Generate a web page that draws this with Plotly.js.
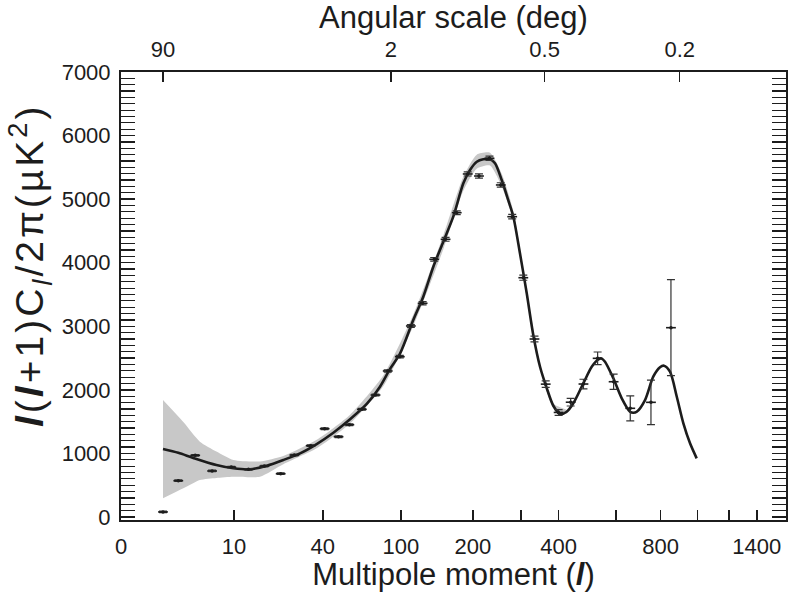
<!DOCTYPE html>
<html><head><meta charset="utf-8">
<script src="https://cdn.plot.ly/plotly-3.0.1.min.js"></script>
<style>html,body{margin:0;padding:0;background:#fff}#chart{width:789px;height:592px}
.annotation-text{letter-spacing:3px}</style>
</head><body><div id="chart"></div>
<script>
// ---- data (multipole l, power l(l+1)Cl/2pi in uK^2) ----
const dataL   = [2, 3, 4.5, 6.5, 9.5, 13, 17, 22, 27, 34, 41, 49, 56, 65, 76, 87, 99, 111, 125, 140, 156, 173, 191, 211, 231, 254, 279, 305, 333, 363, 400, 437, 479, 529, 590, 659, 753, 853];
const dataCl  = [80, 571, 970, 724, 785, 750, 802, 681, 975, 1122, 1389, 1263, 1452, 1694, 1919, 2297, 2522, 3005, 3362, 4054, 4368, 4787, 5396, 5364, 5643, 5223, 4724, 3764, 2800, 2090, 1645, 1806, 2092, 2496, 2128, 1710, 1804, 2978];
const dataErr = [12, 12, 12, 12, 12, 12, 12, 12, 12, 12, 15, 15, 15, 15, 15, 18, 20, 22, 25, 28, 30, 30, 32, 32, 35, 35, 35, 40, 45, 50, 45, 60, 75, 100, 120, 197, 350, 755];

const modelL  = [2, 3, 4.3, 7.1, 9.9, 13.3, 17.7, 22.9, 29.3, 36.9, 45.9, 56.5, 68.8, 79.9, 89.2, 99.2, 113.8, 125.8, 138.8, 152.7, 167.6, 183.7, 195, 207, 219, 232, 242, 256, 270, 281.6, 297, 313.4, 330, 347.6, 365.8, 384.5, 404, 424.6, 445.5, 478.6, 507.7, 531.6, 543, 556.6, 588.9, 623, 658, 672, 687.4, 725, 764, 797, 817, 848, 884, 920, 957.5, 996];
const modelCl = [1070, 1010, 930, 818, 766, 750, 807, 897, 1002, 1148, 1326, 1537, 1778, 2050, 2330, 2570, 3099, 3466, 3937, 4331, 4724, 5249, 5459, 5589, 5627, 5627, 5564, 5301, 4987, 4724, 4148, 3519, 2860, 2364, 2030, 1750, 1620, 1656, 1789, 2103, 2364, 2481, 2495, 2443, 2182, 1867, 1656, 1640, 1656, 1840, 2207, 2355, 2380, 2286, 1892, 1474, 1159, 923];

const bandL     = [2, 3.4, 5, 7.1, 9.9, 15.8, 22.9, 36.9, 56.5, 83, 114, 153, 184, 207, 232, 256, 282, 313, 348, 385, 425];
const bandUpper = [1840, 1494, 1185, 1030, 897, 875, 960, 1215, 1610, 2230, 3190, 4440, 5360, 5700, 5730, 5400, 4800, 3570, 2400, 1780, 1680];
const bandLower = [294, 451, 582, 615, 634, 634, 830, 1080, 1470, 2060, 3010, 4220, 5140, 5480, 5530, 5200, 4650, 3470, 2330, 1720, 1630];

const bottomTickL     = [10, 40, 100, 200, 400, 800, 1400];
const bottomTickText  = ['10', '40', '100', '200', '400', '800', '1400'];
const bottomMinorL    = [300, 600, 1000, 1200];
const topTickDeg      = [90, 2, 0.5, 0.2];
const topTickText     = ['90', '2', '0.5', '0.2'];
const yTickVals       = [0, 1000, 2000, 3000, 4000, 5000, 6000, 7000];

// ---- multipole axis is linear in l^(1/4) ----
const sc = l => Math.pow(l, 0.25);
const uMin = 0.8407, uMax = 6.359;

const ink = '#1c1c1c';
const font = '"Liberation Sans", Arial, Helvetica, sans-serif';

const bandX = bandL.map(sc).concat(bandL.slice().reverse().map(sc));
const bandY = bandUpper.concat(bandLower.slice().reverse());

const traces = [
  {x: bandX, y: bandY, type: 'scatter', mode: 'lines', fill: 'toself', fillcolor: '#c8c8c8',
   line: {width: 0, color: 'rgba(0,0,0,0)', shape: 'spline', smoothing: 0.6}, hoverinfo: 'skip'},
  {x: modelL.map(sc), y: modelCl, type: 'scatter', mode: 'lines',
   line: {color: ink, width: 2.6, shape: 'spline', smoothing: 0.8}},
  {x: dataL.map(sc), y: dataCl, type: 'scatter', mode: 'markers',
   marker: {symbol: 'line-ew', size: 7, line: {width: 1.6, color: ink}},
   error_y: {type: 'data', array: dataErr, visible: true, color: '#333', thickness: 1.2, width: 4}},
  {x: dataL.map(sc), y: dataCl, type: 'scatter', mode: 'markers',
   marker: {symbol: 'circle', size: 3.5, color: ink}},
  {x: [sc(2)], y: [-5000], xaxis: 'x2', type: 'scatter', mode: 'markers', marker: {opacity: 0}, hoverinfo: 'skip'}
];

const tickCommon = {ticks: 'inside', tickwidth: 1.5, tickcolor: ink, showline: true, linecolor: ink,
                    linewidth: 2, showgrid: false, zeroline: false, tickfont: {size: 22}};

const layout = {
  width: 789, height: 592,
  margin: {l: 121, r: 3, t: 72, b: 72, pad: 0},
  paper_bgcolor: '#ffffff', plot_bgcolor: '#ffffff',
  font: {family: font, color: ink, size: 22},
  showlegend: false,
  xaxis: Object.assign({}, tickCommon, {
    range: [uMin, uMax], tickmode: 'array',
    tickvals: [uMin].concat(bottomTickL.map(sc)), ticktext: ['0'].concat(bottomTickText),
    ticklen: 10, ticklabelstandoff: 6,
    minor: {tickmode: 'array', tickvals: bottomMinorL.map(sc), ticks: 'inside', ticklen: 10, tickwidth: 1.5, tickcolor: ink, showgrid: false},
    title: {text: 'Multipole moment (<b><i>l</i></b>)', font: {size: 31}, standoff: 6}
  }),
  xaxis2: Object.assign({}, tickCommon, {
    overlaying: 'x', side: 'top', range: [uMin, uMax], tickmode: 'array',
    tickvals: topTickDeg.map(d => sc(180 / d)), ticktext: topTickText,
    ticklen: 10, ticklabelstandoff: 4,
    title: {text: 'Angular scale (deg)', font: {size: 31}, standoff: 4}
  }),
  yaxis: Object.assign({}, tickCommon, {
    range: [-47, 7000], tickmode: 'array', tickvals: yTickVals,
    ticklen: 14, mirror: 'allticks', ticklabelstandoff: 4,
    minor: {dtick: 100, tick0: 0, ticks: 'inside', ticklen: 6, tickwidth: 1.2, tickcolor: ink, showgrid: false}
  }),
  annotations: [{
    text: '<b><i>l</i></b>(<b><i>l</i></b>+1)C<sub><i>l</i></sub>/2π(µK<sup>2</sup>)',
    xref: 'paper', yref: 'paper', x: (30 - 121) / 665, y: (520 - 266) / 448,
    xanchor: 'center', yanchor: 'middle', textangle: -90, showarrow: false,
    font: {size: 39, color: ink, family: font}
  }]
};

Plotly.newPlot('chart', traces, layout, {displayModeBar: false, staticPlot: true});
</script>
</body></html>
